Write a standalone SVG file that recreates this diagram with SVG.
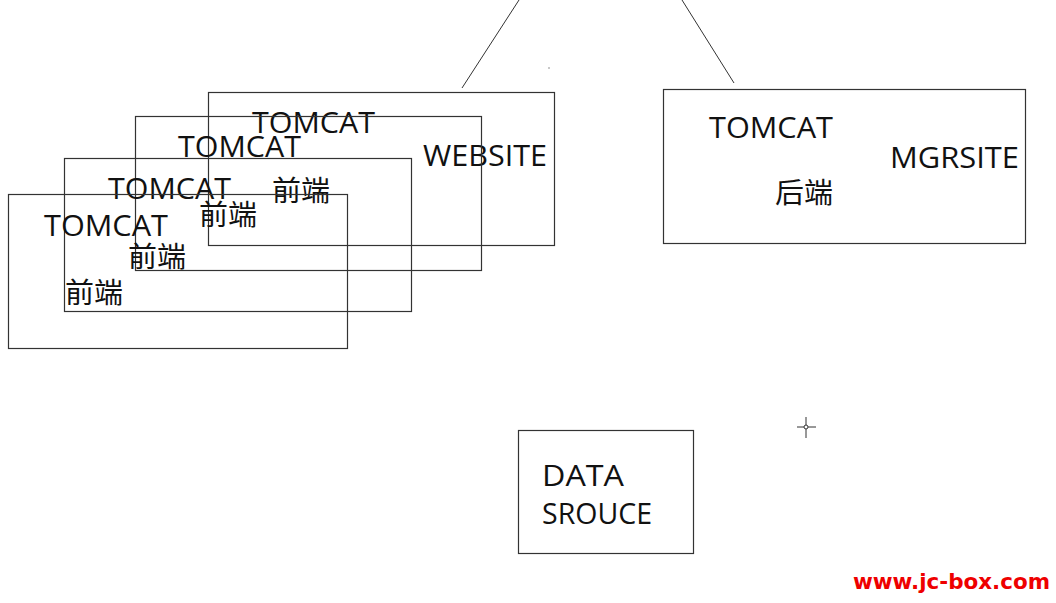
<svg xmlns="http://www.w3.org/2000/svg" width="1056" height="603" viewBox="0 0 1056 603">
<style>
.box{fill:none;stroke:#333;stroke-width:1.2}
.ln{stroke:#333;stroke-width:1;fill:none}
.t{font-family:"Open Sans","Noto Sans CJK SC",sans-serif;font-size:29px;fill:#111}
.c{font-family:"Noto Sans CJK SC",sans-serif;font-size:28px;fill:#111}
.w{font-family:"DejaVu Sans",sans-serif;font-size:21px;fill:#e00;font-weight:bold}
</style>
<rect width="1056" height="603" fill="#fff"/>
<g id="connectors">
<line class="ln" x1="519" y1="0" x2="462" y2="88"/>
<line class="ln" x1="682" y1="0" x2="734" y2="83"/>
</g>
<g id="website4">
<rect class="box" x="208.5" y="92.5" width="346" height="153"/>
<text class="t" x="252" y="133" textLength="123" lengthAdjust="spacingAndGlyphs">TOMCAT</text>
<text class="c" x="272" y="201" textLength="58" lengthAdjust="spacingAndGlyphs">前端</text>
<text class="t" x="423" y="166" textLength="124" lengthAdjust="spacingAndGlyphs">WEBSITE</text>
</g>
<g id="website3">
<rect class="box" x="135.5" y="116.5" width="346" height="154"/>
<text class="t" x="178" y="157" textLength="123" lengthAdjust="spacingAndGlyphs">TOMCAT</text>
<text class="c" x="199" y="225" textLength="58" lengthAdjust="spacingAndGlyphs">前端</text>
</g>
<g id="website2">
<rect class="box" x="64.5" y="158.5" width="347" height="153"/>
<text class="t" x="108" y="199" textLength="123" lengthAdjust="spacingAndGlyphs">TOMCAT</text>
<text class="c" x="128" y="267" textLength="58" lengthAdjust="spacingAndGlyphs">前端</text>
</g>
<g id="website1">
<rect class="box" x="8.5" y="194.5" width="339" height="154"/>
<text class="t" x="44" y="236" textLength="124" lengthAdjust="spacingAndGlyphs">TOMCAT</text>
<text class="c" x="65" y="303" textLength="58" lengthAdjust="spacingAndGlyphs">前端</text>
</g>
<g id="mgrsite">
<rect class="box" x="663.5" y="89.5" width="362" height="154"/>
<text class="t" x="709" y="138" textLength="124" lengthAdjust="spacingAndGlyphs">TOMCAT</text>
<text class="c" x="775" y="203" textLength="58" lengthAdjust="spacingAndGlyphs">后端</text>
<text class="t" x="890" y="168" textLength="129" lengthAdjust="spacingAndGlyphs">MGRSITE</text>
</g>
<g id="datasource">
<rect class="box" x="518.5" y="430.5" width="175" height="123"/>
<text class="t" x="542" y="486" textLength="82" lengthAdjust="spacingAndGlyphs">DATA</text>
<text class="t" x="542" y="524" textLength="110" lengthAdjust="spacingAndGlyphs">SROUCE</text>
</g>
<g id="marks">
<circle cx="549" cy="68" r="0.7" fill="#666"/>
<line class="ln" x1="797" y1="427" x2="816" y2="427"/>
<line class="ln" x1="806" y1="417" x2="806" y2="438"/>
<circle cx="806" cy="427" r="2" fill="#fff" stroke="#333" stroke-width="1"/>
</g>
<text class="w" x="853" y="589" textLength="197" lengthAdjust="spacingAndGlyphs">www.jc-box.com</text>
</svg>
